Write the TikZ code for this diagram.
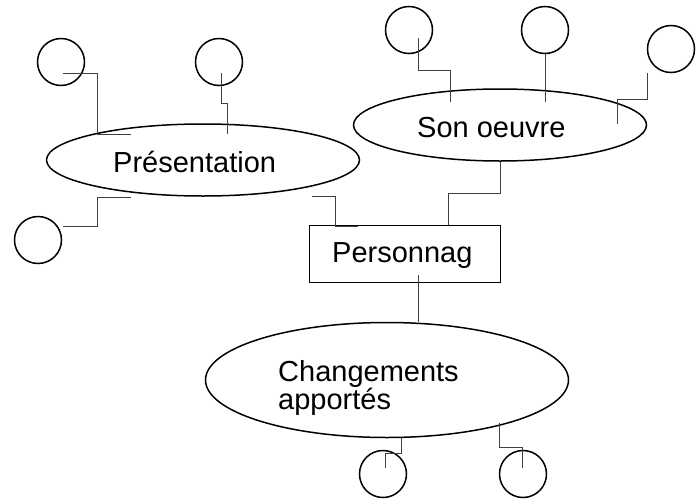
\documentclass[tikz,border=0pt]{standalone}
\usepackage{fontspec}
\setmainfont{Liberation Sans}
\usetikzlibrary{shapes.geometric}

\begin{document}
\begin{tikzpicture}[x=1pt,y=-1pt]

    \tikzset{bubble/.style={draw,shape=circle,minimum size=47pt,inner sep=0pt,line width=1.5pt},
             oval/.style={draw,shape=ellipse,inner sep=0pt,line width=1.5pt},
             txt/.style={anchor=base west,inner sep=0pt,align=left,font=\fontsize{29}{28}\selectfont}}
    \useasboundingbox (0,0) rectangle (699,501);

    \node[oval,minimum width=313pt,minimum height=72pt] (e1) at (203,160) {};
    \node[oval,minimum width=293pt,minimum height=72pt] (e2) at (500,125) {};
    \node[oval,minimum width=363pt,minimum height=115pt] (e3) at (387,380) {};
    \node[draw,line width=1.5pt,minimum width=191pt,minimum height=57pt] (b) at (405,254) {};

    \node[txt] (t1) at (113,172) {Présentation};
    \node[txt] (t2) at (417,137) {Son oeuvre};
    \node[txt] (t3) at (332,262) {Personnag};
    \node[txt] (t4) at (278,409) {Changements\\apportés};

    \node[bubble] (c1) at ( 61, 62) {};
    \node[bubble] (c2) at (219, 62) {};
    \node[bubble] (c3) at ( 38,240) {};
    \node[bubble] (c4) at (409, 30) {};
    \node[bubble] (c5) at (545, 30) {};
    \node[bubble] (c6) at (671, 49) {};
    \node[bubble] (c7) at (383,474) {};
    \node[bubble] (c8) at (523,474) {};

    \begin{scope}[every path/.style={line width=0.9pt,draw=black!75}]
        % Presentation
        \draw ([shift={(2,11)}]c1.center) -| ([shift={(-106,-26)}]e1.center) -- ([shift={(-72,-26)}]e1.center);
        \draw ([shift={(2,11)}]c2.center) |- ([shift={(24,-57)}]e1.center) -- ([shift={(24,-26)}]e1.center);
        \draw ([shift={(25,-14)}]c3.center) -| ([shift={(-106,37)}]e1.center) -- ([shift={(-72,37)}]e1.center);
        \draw ([shift={(109,36)}]e1.center) -| ([shift={(-70,-28)}]b.center) -- ([shift={(-47,-28)}]b.center);

        % Son oeuvre
        \draw ([shift={(43,-29)}]b.center) |- ([shift={(0,68)}]e2.center) -- ([shift={(0,37)}]e2.center);
        \draw ([shift={(9,8)}]c4.center) |- ([shift={(-50,-55)}]e2.center) -- ([shift={(-50,-23)}]e2.center);
        \draw (c5.south) -- ([shift={(45,-23)}]e2.center);
        \draw ([shift={(-24,24)}]c6.center) |- ([shift={(117,-26)}]e2.center) -- ([shift={(117,-1)}]e2.center);

        % Changements
        \draw ([shift={(13,21)}]b.center) -- ([shift={(31,-58)}]e3.center);
        \draw ([shift={(2,-6)}]c7.center) |- ([shift={(14,73)}]e3.center) -- ([shift={(14,58)}]e3.center);
        \draw ([shift={(-1,-6)}]c8.center) |- ([shift={(112,67)}]e3.center) -- ([shift={(112,43)}]e3.center);
    \end{scope}

\end{tikzpicture}
\end{document}
